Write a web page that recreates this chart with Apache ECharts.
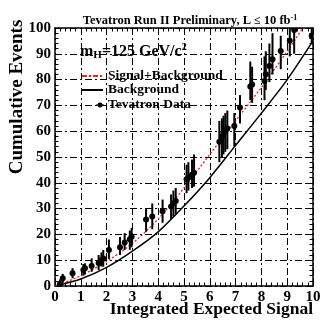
<!DOCTYPE html>
<html><head><meta charset="utf-8">
<script src="https://cdn.jsdelivr.net/npm/echarts@6/dist/echarts.min.js"></script>
<style>html,body{margin:0;padding:0;background:#fff}#c{width:326px;height:332px}</style>
</head><body><div id="c"></div>
<script>
// Data
const dataX  = [0.19,0.3,0.68,1.1,1.16,1.42,1.69,1.8,1.87,2.09,2.52,2.7,2.9,2.97,3.53,3.77,4.17,4.5,4.59,4.68,5.1,5.17,5.31,5.39,6.37,6.47,6.53,6.6,6.68,6.95,7.17,7.57,7.64,8.12,8.17,8.31,8.43,8.75,9.1,9.27,9.95];
const dataY  = [0.8,3.0,4.9,6.2,6.9,7.8,8.9,10,10.7,14,15,16.9,18.1,19.1,25.8,26.9,29,30.8,32,32.9,41.4,42,43.1,43.9,55.9,57.9,59.3,60,61,62,69.2,77.3,78.1,79.5,82.1,85.3,87.9,91.1,95.1,99.2,97];
const dataLo = [-0.5,1.3,3.0,4.0,4.5,5.5,6.2,7.5,7.5,10.5,12,14,14,15,21,22,24.5,26,27,28,36,37,38,38.5,48,50,51,52,53,54,63,72,71,72,76,79,82,84,89,90,94];
const dataHi = [2.5,4.7,6.9,8.5,8.8,10.7,12,13,14,18,19,20.5,21.5,22.5,30,32,33.5,35.5,37,38,47,48,49,51,64,65,66,67,68,67,74,87,85,89,91,94,98,97,101,104,101];
const curveX = [0,1,2,3,4,5,6,7,8,9,10];
const bkg    = [0,2.7,7.2,13.5,21,31,42,54.5,67,80,95];
const sigBkg = [0,4,9.5,16.5,26,38,51,64,77,91,106];
const xTicks = [0,1,2,3,4,5,6,7,8,9,10];
const yTicks = [0,10,20,30,40,50,60,70,80,90,100];

const F = '"Liberation Serif","Times New Roman",serif';
const chart = echarts.init(document.getElementById('c'));
const dash = [7,3,2,3];
const errData = dataX.map((x,i)=>[x,dataY[i],dataLo[i],dataHi[i]]);

function axisCommon(show){
  return {
    axisLine:{show:true,onZero:false,lineStyle:{color:'#000',width:1.5}},
    axisTick:{show:true,inside:true,length:7,lineStyle:{color:'#000',width:1}},
    minorTick:{show:true,splitNumber:5,length:3.5,lineStyle:{color:'#000',width:1}},
    axisLabel:{show:show,color:'#000',fontFamily:F,fontWeight:'bold',fontSize:15,margin:4},
  };
}
chart.setOption({
  animation:false,
  backgroundColor:'#fff',
  grid:{left:55,right:13,top:28,bottom:46,containLabel:false,outerBoundsMode:'none'},
  xAxis:[
    Object.assign({type:'value',min:xTicks[0],max:xTicks[xTicks.length-1],interval:1,position:'bottom',
      splitLine:{show:true,lineStyle:{color:'#000',width:1,type:dash}}},
      axisCommon(true)),
    Object.assign({type:'value',min:0,max:10,interval:1,position:'top',splitLine:{show:false}},axisCommon(false))
  ],
  yAxis:[
    Object.assign({type:'value',min:yTicks[0],max:yTicks[yTicks.length-1],interval:10,position:'left',
      splitLine:{show:true,lineStyle:{color:'#000',width:1,type:dash}}},
      axisCommon(true)),
    Object.assign({type:'value',min:0,max:100,interval:10,position:'right',splitLine:{show:false}},axisCommon(false))
  ],
  title:{text:'Tevatron Run II Preliminary, L {s|≤} 10 fb{sup|-1}',left:185,top:9,textAlign:'center',
    textStyle:{color:'#000',fontFamily:F,fontWeight:'bold',fontSize:12.5,
      rich:{sup:{fontFamily:F,fontWeight:'bold',fontSize:8,verticalAlign:'top',padding:[0,0,6,0],color:'#000'},
            s:{fontFamily:F,fontSize:12,color:'#000'}}}},
  graphic:[
    {type:'text',x:17,y:97,rotation:Math.PI/2,style:{text:'Cumulative Events',fill:'#000',font:'bold 19px '+F,textAlign:'center',textVerticalAlign:'middle'}},
    {type:'text',x:313,y:309,style:{text:'Integrated Expected Signal',fill:'#000',font:'bold 17.5px '+F,textAlign:'right',textVerticalAlign:'middle'}},
    {type:'text',left:80,top:42,style:{text:'m{sub|H}=125 GeV/c{sup|2}',fill:'#000',font:'bold 16px '+F,
      rich:{sub:{fontFamily:F,fontWeight:'bold',fontSize:11,verticalAlign:'bottom',padding:[8,0,0,0]},
            sup:{fontFamily:F,fontWeight:'bold',fontSize:10,verticalAlign:'top',padding:[0,0,8,0]}}}},
    {type:'line',shape:{x1:82,y1:76,x2:103,y2:76},style:{stroke:'#e8231c',lineWidth:2,lineDash:[5,2,2,2]}},
    {type:'text',left:108,top:69,style:{text:'Signal+Background',fill:'#000',font:'bold 13.5px '+F}},
    {type:'line',shape:{x1:82,y1:90,x2:103,y2:90},style:{stroke:'#000',lineWidth:2}},
    {type:'text',left:108,top:83,style:{text:'Background',fill:'#000',font:'bold 13.5px '+F}},
    {type:'circle',shape:{cx:100,cy:105,r:2.5},style:{fill:'#000'}},
    {type:'line',shape:{x1:96,y1:105,x2:104,y2:105},style:{stroke:'#000',lineWidth:1}},
    {type:'text',left:108,top:98,style:{text:'Tevatron Data',fill:'#000',font:'bold 13.5px '+F}}
  ],
  series:[
    {type:'line',data:curveX.map((x,i)=>[x,bkg[i]]),smooth:0.3,showSymbol:false,
      lineStyle:{color:'#000',width:1.5},clip:true,z:3},
    {type:'line',data:curveX.map((x,i)=>[x,sigBkg[i]]),smooth:0.3,showSymbol:false,
      lineStyle:{color:'#e8231c',width:1.3,type:[2,2]},clip:true,z:3},
    {type:'custom',data:errData,clip:true,z:5,
      renderItem:function(params,api){
        const p=api.coord([api.value(0),api.value(1)]);
        const lo=api.coord([api.value(0),api.value(2)]);
        const hi=api.coord([api.value(0),api.value(3)]);
        return {type:'group',children:[
          {type:'line',shape:{x1:p[0],y1:lo[1],x2:p[0],y2:hi[1]},style:{stroke:'#000',lineWidth:2}},
          {type:'circle',shape:{cx:p[0],cy:p[1],r:3},style:{fill:'#000'}}
        ]};
      }}
  ]
});
</script></body></html>
